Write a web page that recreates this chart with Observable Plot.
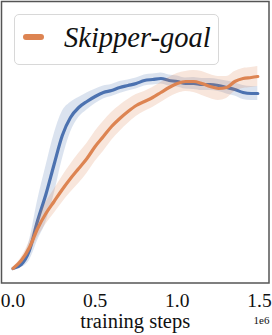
<!DOCTYPE html>
<html><head><meta charset="utf-8">
<script src="https://cdn.jsdelivr.net/npm/d3@7"></script>
<script src="https://cdn.jsdelivr.net/npm/@observablehq/plot@0.6"></script>
<style>
html,body{margin:0;padding:0;background:#fff;}
#wrap{position:relative;width:272px;height:335px;overflow:hidden;}
#legend{position:absolute;left:14px;top:14px;width:205px;height:51px;box-sizing:border-box;border:1px solid #d8d8d8;border-radius:5px;background:rgba(255,255,255,0.8);}
#legend .sw{position:absolute;left:8px;top:19px;width:21px;height:6px;border-radius:3px;}
#legend .lb{position:absolute;left:49px;top:3px;font-family:"Liberation Serif",serif;font-style:italic;font-size:28.5px;line-height:40px;color:#111;white-space:nowrap;}
</style>
</head><body>
<div id="wrap"></div>
<script>
// training steps (×1e6)
const steps = [0, 0.05, 0.10, 0.15, 0.20, 0.25, 0.30, 0.35, 0.40, 0.45, 0.50, 0.55, 0.60, 0.65, 0.70, 0.75, 0.80, 0.85, 0.90, 0.95, 1.00, 1.05, 1.10, 1.15, 1.20, 1.25, 1.30, 1.35, 1.40, 1.45, 1.49];
// unlabeled baseline (blue)
const blueMean = [0, 0.02, 0.09, 0.24, 0.37, 0.52, 0.665, 0.755, 0.805, 0.835, 0.86, 0.88, 0.89, 0.905, 0.915, 0.925, 0.94, 0.945, 0.95, 0.94, 0.935, 0.925, 0.925, 0.92, 0.92, 0.915, 0.905, 0.895, 0.88, 0.875, 0.875];
const blueSd   = [0.005, 0.015, 0.05, 0.10, 0.14, 0.15, 0.12, 0.075, 0.05, 0.042, 0.036, 0.032, 0.03, 0.03, 0.028, 0.028, 0.028, 0.028, 0.028, 0.028, 0.028, 0.028, 0.03, 0.03, 0.03, 0.03, 0.032, 0.033, 0.035, 0.035, 0.035];
// Skipper-goal (orange)
const orangeMean = [0, 0.04, 0.105, 0.2, 0.275, 0.335, 0.395, 0.45, 0.5, 0.55, 0.61, 0.66, 0.71, 0.75, 0.785, 0.815, 0.835, 0.855, 0.88, 0.905, 0.925, 0.935, 0.935, 0.925, 0.91, 0.9, 0.905, 0.935, 0.95, 0.955, 0.96];
const orangeSd   = [0.005, 0.015, 0.03, 0.045, 0.055, 0.06, 0.065, 0.07, 0.075, 0.075, 0.075, 0.075, 0.07, 0.065, 0.06, 0.055, 0.05, 0.05, 0.05, 0.05, 0.05, 0.05, 0.055, 0.06, 0.06, 0.06, 0.055, 0.05, 0.05, 0.05, 0.05];
const tickValues = [0, 0.5, 1.0, 1.5];
const tickLabels = ["0.0", "0.5", "1.0", "1.5"];
const xLabel = "training steps";
const xExponent = "1e6";
const legendLabel = "Skipper-goal";

const BLUE = "#4c72b0", ORANGE = "#dd8452";
const serif = "'Liberation Serif', serif";

const blue = steps.map((s, i) => ({s, m: blueMean[i], lo: blueMean[i] - blueSd[i], hi: blueMean[i] + blueSd[i]}));
const orange = steps.map((s, i) => ({s, m: orangeMean[i], lo: orangeMean[i] - orangeSd[i], hi: orangeMean[i] + orangeSd[i]}));
const ticks = tickValues.map((v, i) => ({v, t: tickLabels[i]}));
const curve = "monotone-x";

const chart = Plot.plot({
  width: 272, height: 335,
  marginLeft: 1, marginRight: 3.5, marginTop: 1, marginBottom: 52.5,
  x: {domain: [-0.070, 1.5581], axis: null},
  y: {domain: [-0.0725, 1.335], axis: null},
  style: {background: "#fff"},
  marks: [
    Plot.areaY(blue, {x: "s", y1: "lo", y2: "hi", fill: BLUE, fillOpacity: 0.2, curve}),
    Plot.lineY(blue, {x: "s", y: "m", stroke: BLUE, strokeWidth: 3.2, curve}),
    Plot.areaY(orange, {x: "s", y1: "lo", y2: "hi", fill: ORANGE, fillOpacity: 0.2, curve}),
    Plot.lineY(orange, {x: "s", y: "m", stroke: ORANGE, strokeWidth: 3.2, curve}),
    Plot.frame({stroke: "#555", strokeWidth: 1.5}),
    Plot.text(ticks, {x: "v", text: "t", frameAnchor: "bottom", lineAnchor: "bottom", dy: 24, fontSize: 19.5, fontFamily: serif, fill: "#111"}),
    Plot.text([xLabel], {text: d => d, frameAnchor: "bottom", lineAnchor: "bottom", dy: 44.5, fontSize: 20.5, fontFamily: serif, fill: "#111"}),
    Plot.text([xExponent], {text: d => d, frameAnchor: "bottom-right", textAnchor: "end", lineAnchor: "bottom", dx: 0.5, dy: 40.5, fontSize: 11, fontFamily: serif, fill: "#111"})
  ]
});
const wrap = document.getElementById("wrap");
wrap.appendChild(chart);
const lg = document.createElement("div");
lg.id = "legend";
lg.innerHTML = `<div class="sw" style="background:${ORANGE}"></div><div class="lb"></div>`;
lg.querySelector(".lb").textContent = legendLabel;
wrap.appendChild(lg);
</script>
</body></html>
